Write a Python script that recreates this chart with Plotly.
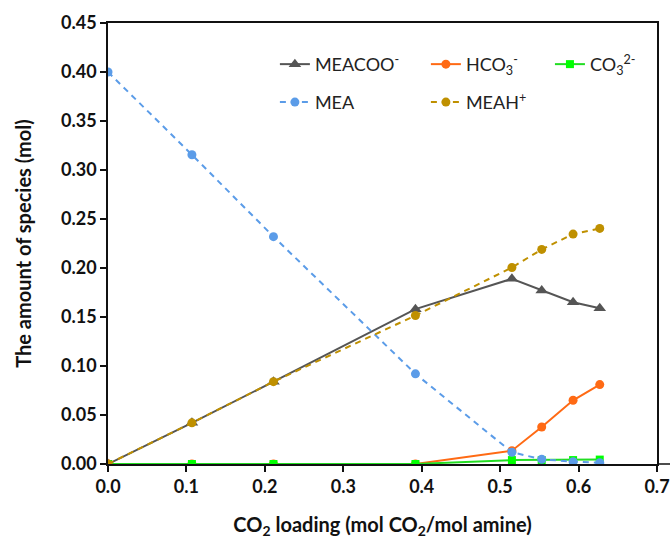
import plotly.graph_objects as go

loading = [0.0, 0.107, 0.211, 0.392, 0.515, 0.553, 0.593, 0.627]
meacoo = [0.0, 0.042, 0.084, 0.158, 0.189, 0.177, 0.165, 0.159]
hco3 = [0.0, 0.0, 0.0, 0.0, 0.0136, 0.0378, 0.065, 0.081]
co3 = [0.0, 0.0, 0.0, 0.0, 0.004, 0.004, 0.004, 0.0045]
mea = [0.4, 0.3156, 0.232, 0.092, 0.012, 0.0048, 0.0024, 0.0013]
meah = [0.0, 0.042, 0.084, 0.1515, 0.2005, 0.219, 0.2346, 0.2404]

FONT = "Lato"

fig = go.Figure()
fig.add_trace(go.Scatter(x=loading, y=meacoo, mode="lines+markers", name="MEACOO<sup>-</sup>",
                         line=dict(color="#555555", width=2),
                         marker=dict(symbol="triangle-up", size=11, color="#555555"),
                         legend="legend"))
fig.add_trace(go.Scatter(x=loading, y=hco3, mode="lines+markers", name="HCO<sub>3</sub><sup>-</sup>",
                         line=dict(color="#ff6a14", width=2),
                         marker=dict(symbol="circle", size=9, color="#ff6a14"),
                         legend="legend"))
fig.add_trace(go.Scatter(x=loading, y=co3, mode="lines+markers", name="CO<sub>3</sub><sup>2-</sup>",
                         line=dict(color="#22dd22", width=2),
                         marker=dict(symbol="square", size=8, color="#00ff00"),
                         legend="legend3"))
fig.add_trace(go.Scatter(x=loading, y=mea, mode="lines+markers", name="MEA",
                         line=dict(color="#5b9ce8", width=2, dash="6px,5px"),
                         marker=dict(symbol="circle", size=9, color="#5b9ce8"),
                         legend="legend2"))
fig.add_trace(go.Scatter(x=loading, y=meah, mode="lines+markers", name="MEAH<sup>+</sup>",
                         line=dict(color="#bf9000", width=2, dash="6px,5px"),
                         marker=dict(symbol="circle", size=9, color="#bf9000"),
                         legend="legend2"))

legend_common = dict(orientation="h", xanchor="left", yanchor="top",
                     font=dict(family=FONT, size=18, color="#222222"),
                     bgcolor="rgba(0,0,0,0)", entrywidthmode="pixels",
                     tracegroupgap=0, itemwidth=30)

fig.update_layout(
    width=670, height=539,
    margin=dict(l=108, r=13, t=23, b=75),
    paper_bgcolor="white", plot_bgcolor="white",
    showlegend=True,
    legend=dict(x=0.304, y=0.948, entrywidth=106, **legend_common),
    legend3=dict(x=0.805, y=0.948, entrywidth=0, **legend_common),
    legend2=dict(x=0.304, y=0.862, entrywidth=106, **legend_common),
    font=dict(family=FONT, color="#111111"),
    xaxis=dict(range=[0, 0.7], dtick=0.1, tickformat=".1f", automargin=False,
               showline=True, linecolor="#111111", linewidth=1.5, mirror=True,
               ticks="outside", ticklen=6, tickwidth=1.5, tickcolor="#111111",
               showgrid=False, zeroline=False,
               tickfont=dict(family=FONT, size=18, color="#111111", weight="bold"),
               title=dict(text="CO<sub>2</sub> loading (mol CO<sub>2</sub>/mol amine)",
                          font=dict(family=FONT, size=20, color="#111111", weight="bold"),
                          standoff=22)),
    yaxis=dict(range=[0, 0.45], dtick=0.05, tickformat=".2f", automargin=False,
               showline=True, linecolor="#111111", linewidth=1.5, mirror=True,
               ticks="outside", ticklen=6, tickwidth=1.5, tickcolor="#111111",
               showgrid=False, zeroline=False,
               tickfont=dict(family=FONT, size=18, color="#111111", weight="bold"),
               title=dict(text="The amount of species (mol)",
                          font=dict(family=FONT, size=20, color="#111111", weight="bold"),
                          standoff=24)),
    shapes=[dict(type="line", xref="paper", yref="paper", x0=1, x1=1.03, y0=0, y1=0,
                 line=dict(color="#111111", width=1.5))],
)

fig.write_html("out.html")
